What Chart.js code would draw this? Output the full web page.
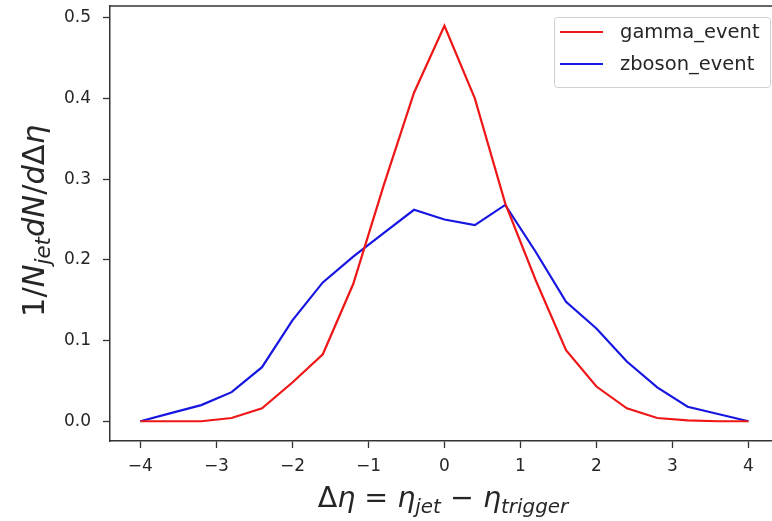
<!DOCTYPE html>
<html>
<head>
<meta charset="utf-8">
<script src="https://cdn.jsdelivr.net/npm/chart.js@4.4.0/dist/chart.umd.min.js"></script>
<style>
  html, body { margin: 0; padding: 0; background: #fff; overflow: hidden; }
  canvas { display: block; }
</style>
</head>
<body>
<canvas id="myChart" width="772" height="521"></canvas>
<script>
// delta eta bins
const etaBins = [-4, -3.6, -3.2, -2.8, -2.4, -2, -1.6, -1.2, -0.8, -0.4, 0, 0.4, 0.8, 1.2, 1.6, 2, 2.4, 2.8, 3.2, 3.6, 4];
const gammaEvent = [0, 0, 0, 0.004, 0.016, 0.048, 0.083, 0.17, 0.292, 0.407, 0.49, 0.4, 0.27, 0.175, 0.088, 0.043, 0.016, 0.004, 0.001, 0, 0];
const zbosonEvent = [0, 0.01, 0.02, 0.036, 0.067, 0.125, 0.172, 0.204, 0.233, 0.262, 0.25, 0.243, 0.268, 0.21, 0.148, 0.115, 0.074, 0.042, 0.018, 0.009, 0];
const seriesLabels = ['gamma_event', 'zboson_event'];
const seriesColors = ['#ee1616', '#1616e0'];
const xTickValues = [-4, -3, -2, -1, 0, 1, 2, 3, 4];
const yTickValues = [0, 0.1, 0.2, 0.3, 0.4, 0.5];

const FONT = '"DejaVu Sans", sans-serif';
const INK = '#262626';

function toPoints(ys) {
  return etaBins.map((x, i) => ({ x: x, y: ys[i] }));
}

// draw a math-ish label: segments of {t, it, sub}
function drawMath(ctx, segs, size, cx, cy, rotate) {
  const subSize = size * 0.7;
  const fontOf = s => (s.it ? 'italic ' : '') + (s.sub ? subSize : size) + 'px ' + FONT;
  let total = 0;
  const widths = segs.map(s => { ctx.font = fontOf(s); const w = ctx.measureText(s.t).width; total += w; return w; });
  ctx.save();
  ctx.translate(cx, cy);
  if (rotate) ctx.rotate(-Math.PI / 2);
  ctx.fillStyle = INK;
  ctx.textBaseline = 'alphabetic';
  let x = -total / 2;
  segs.forEach((s, i) => {
    ctx.font = fontOf(s);
    ctx.fillText(s.t, x, size * 0.35 + (s.sub ? size * 0.22 : 0));
    x += widths[i];
  });
  ctx.restore();
}

const decorations = {
  id: 'decorations',
  afterDraw(chart) {
    const ctx = chart.ctx;
    const a = chart.chartArea;
    // top spine (right spine falls outside the picture)
    ctx.save();
    ctx.strokeStyle = '#333';
    ctx.lineWidth = 1.5;
    ctx.beginPath();
    ctx.moveTo(a.left, a.top);
    ctx.lineTo(a.right, a.top);
    ctx.stroke();
    ctx.restore();

    // legend box
    const bw = 216, bh = 70;
    const bx = a.right - 2 - bw, by = a.top + 11;
    ctx.save();
    ctx.fillStyle = 'rgba(255,255,255,0.85)';
    ctx.strokeStyle = '#d0d0d0';
    ctx.lineWidth = 1;
    ctx.beginPath();
    ctx.roundRect(bx + 0.5, by + 0.5, bw, bh, 3);
    ctx.fill();
    ctx.stroke();
    chart.data.datasets.forEach((ds, i) => {
      const ly = by + 15 + i * 32;
      ctx.strokeStyle = ds.borderColor;
      ctx.lineWidth = 2.2;
      ctx.beginPath();
      ctx.moveTo(bx + 6, ly);
      ctx.lineTo(bx + 49, ly);
      ctx.stroke();
      ctx.fillStyle = INK;
      ctx.font = '19.5px ' + FONT;
      ctx.textBaseline = 'middle';
      ctx.fillText(ds.label, bx + 66, ly + 1);
    });
    ctx.restore();

    // axis titles
    drawMath(ctx, [
      { t: '\u0394' }, { t: '\u03b7', it: true }, { t: ' = ' },
      { t: '\u03b7', it: true }, { t: 'jet', it: true, sub: true },
      { t: ' \u2212 ' }, { t: '\u03b7', it: true }, { t: 'trigger', it: true, sub: true }
    ], 28.5, 443, 497, false);
    drawMath(ctx, [
      { t: '1/' }, { t: 'N', it: true }, { t: 'jet', it: true, sub: true },
      { t: 'dN', it: true }, { t: '/' }, { t: 'd', it: true }, { t: '\u0394' }, { t: '\u03b7', it: true }
    ], 30.5, 33, 221, true);
  }
};

const noPad = s => { s.paddingTop = 0; s.paddingBottom = 0; s.paddingLeft = 0; s.paddingRight = 0; };

const config = {
  type: 'line',
  data: {
    datasets: [
      { label: seriesLabels[0], data: toPoints(gammaEvent), borderColor: seriesColors[0], borderWidth: 2.2, pointRadius: 0, tension: 0, fill: false },
      { label: seriesLabels[1], data: toPoints(zbosonEvent), borderColor: seriesColors[1], borderWidth: 2.2, pointRadius: 0, tension: 0, fill: false }
    ]
  },
  options: {
    responsive: false,
    animation: false,
    layout: { autoPadding: false, padding: { left: 0, right: 0, top: 6, bottom: 0 } },
    plugins: { legend: { display: false }, tooltip: { enabled: false } },
    scales: {
      x: {
        type: 'linear',
        // the plot is cut off on the right, so the range stops short of 4.4
        min: -4.4,
        max: 4.31,
        afterBuildTicks: s => { s.ticks = xTickValues.map(v => ({ value: v })); },
        afterFit: s => { s.height = 80; noPad(s); },
        ticks: {
          autoSkip: false,
          maxRotation: 0,
          padding: 8,
          color: INK,
          font: { family: FONT, size: 17 },
          callback: v => (v < 0 ? '\u2212' + Math.abs(v) : String(v))
        },
        grid: { drawOnChartArea: false, drawTicks: true, tickLength: 7, tickColor: '#333', tickWidth: 1.3 },
        border: { display: true, color: '#333', width: 1.5 }
      },
      y: {
        type: 'linear',
        min: -0.0245,
        max: 0.5145,
        afterBuildTicks: s => { s.ticks = yTickValues.map(v => ({ value: v })); },
        afterFit: s => { s.width = 110; noPad(s); },
        ticks: {
          autoSkip: false,
          padding: 12,
          color: INK,
          font: { family: FONT, size: 17 },
          callback: v => v.toFixed(1)
        },
        grid: { drawOnChartArea: false, drawTicks: true, tickLength: 7, tickColor: '#333', tickWidth: 1.3 },
        border: { display: true, color: '#333', width: 1.5 }
      }
    }
  },
  plugins: [decorations]
};

const myChart = new Chart(document.getElementById('myChart'), config);
</script>
</body>
</html>
